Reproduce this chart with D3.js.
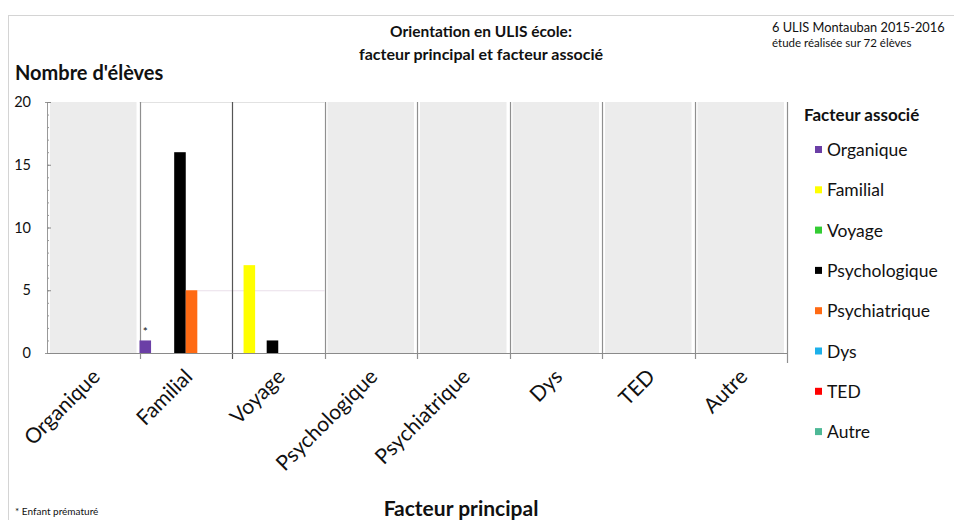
<!DOCTYPE html>
<html>
<head>
<meta charset="utf-8">
<script src="https://cdn.jsdelivr.net/npm/d3@7"></script>
<style>
  body { margin: 0; background: #fff; }
  text { font-family: Lato, "Open Sans", sans-serif; fill: #111; }
</style>
</head>
<body>
<svg width="954" height="520"></svg>
<script>
// facteur principal (x categories)
var categories = ["Organique", "Familial", "Voyage", "Psychologique", "Psychiatrique", "Dys", "TED", "Autre"];
// facteur associé (series)
var seriesNames = ["Organique", "Familial", "Voyage", "Psychologique", "Psychiatrique", "Dys", "TED", "Autre"];
var seriesColors = ["#6b3fa6", "#ffff00", "#33cc33", "#000000", "#ff6a13", "#1cb0ea", "#ff0000", "#4db896"];

// one value per category, for each series
var organique     = [0, 1, 0, 0, 0, 0, 0, 0];
var familial      = [0, 0, 7, 0, 0, 0, 0, 0];
var voyage        = [0, 0, 0, 0, 0, 0, 0, 0];
var psychologique = [0, 16, 1, 0, 0, 0, 0, 0];
var psychiatrique = [0, 5, 0, 0, 0, 0, 0, 0];
var dys           = [0, 0, 0, 0, 0, 0, 0, 0];
var ted           = [0, 0, 0, 0, 0, 0, 0, 0];
var autre         = [0, 0, 0, 0, 0, 0, 0, 0];
var seriesValues = [organique, familial, voyage, psychologique, psychiatrique, dys, ted, autre];

var yTicks = [0, 5, 10, 15, 20];
var whiteBands = ["Familial", "Voyage"];

var svg = d3.select("svg");

// outer frame (top + left only)
svg.append("line").attr("x1", 8).attr("x2", 954).attr("y1", 15.5).attr("y2", 15.5).attr("stroke", "#d4d4d4");
svg.append("line").attr("x1", 8.5).attr("x2", 8.5).attr("y1", 15).attr("y2", 520).attr("stroke", "#d4d4d4");

var x = d3.scaleBand().domain(categories).range([47, 787]).padding(0);
var xs = d3.scaleBand().domain(seriesNames).range([0, x.bandwidth()]).padding(0);
var y = d3.scaleLinear().domain([0, 20]).range([353, 102]);

// band backgrounds
svg.append("g").selectAll("rect").data(categories).enter().append("rect")
  .attr("x", function(d) { return x(d) + 3; })
  .attr("y", y(20))
  .attr("width", x.bandwidth() - 6)
  .attr("height", y(0) - y(20))
  .attr("fill", function(d) { return whiteBands.indexOf(d) >= 0 ? "#fff" : "#ececec"; });

// faint top line over the white bands
svg.append("line").attr("x1", x("Familial")).attr("x2", x("Voyage") + x.bandwidth())
  .attr("y1", y(20) + 0.5).attr("y2", y(20) + 0.5).attr("stroke", "#e2e2e2");
// faint line at 5 in the white bands
svg.append("line").attr("x1", x("Familial") + xs("Dys")).attr("x2", x("Voyage") + x.bandwidth())
  .attr("y1", y(5) + 0.5).attr("y2", y(5) + 0.5).attr("stroke", "#eadfea");

// band separators
var bounds = categories.slice(1).map(function(d) { return x(d); }).concat([x.range()[1]]);
svg.append("g").selectAll("line").data(bounds).enter().append("line")
  .attr("x1", function(d) { return Math.round(d) + 0.5; })
  .attr("x2", function(d) { return Math.round(d) + 0.5; })
  .attr("y1", y(20)).attr("y2", function(d, i) { return i === bounds.length - 1 ? y(0) + 10 : y(0) + 6; })
  .attr("stroke", function(d, i) { return i === 1 ? "#555" : "#8f8f8f"; })
  .attr("stroke-width", 1.2);

// bars
var barData = [];
seriesValues.forEach(function(vals, s) {
  vals.forEach(function(v, c) {
    if (v > 0) barData.push({cat: categories[c], series: seriesNames[s], color: seriesColors[s], value: v});
  });
});
svg.append("g").selectAll("rect").data(barData).enter().append("rect")
  .attr("x", function(d) { return x(d.cat) + xs(d.series); })
  .attr("y", function(d) { return y(d.value); })
  .attr("width", xs.bandwidth())
  .attr("height", function(d) { return y(0) - y(d.value); })
  .attr("fill", function(d) { return d.color; });

// asterisk above the premature-child bar
svg.append("text")
  .attr("x", x("Familial") + xs("Organique") + xs.bandwidth() / 2)
  .attr("y", y(organique[1]) - 4)
  .attr("text-anchor", "middle").attr("font-size", 12).text("*");

// x axis line
svg.append("line").attr("x1", 47).attr("x2", 787).attr("y1", y(0) + 0.5).attr("y2", y(0) + 0.5)
  .attr("stroke", "#8a8a8a").attr("stroke-width", 1.2);

// y axis
var minor = svg.append("g").attr("transform", "translate(47,0)")
  .call(d3.axisLeft(y).tickValues(d3.range(0, 21)).tickSize(2).tickFormat(""));
minor.select(".domain").attr("stroke", "#999");
minor.selectAll(".tick line").attr("stroke", "#999").attr("x2", 2);

var yAxis = svg.append("g").attr("transform", "translate(47,0)")
  .call(d3.axisLeft(y).tickValues(yTicks).tickSize(5).tickPadding(11));
yAxis.select(".domain").remove();
yAxis.selectAll(".tick line").attr("stroke", "#888").attr("x2", 4);
yAxis.selectAll(".tick text").attr("font-size", 14.5).attr("fill", "#222")
  .style("font-family", "Lato, sans-serif");

// x labels
svg.append("g").selectAll("text").data(categories).enter().append("text")
  .attr("transform", function(d) {
    return "translate(" + (x(d) + x.bandwidth() / 2 + 8) + ",378) rotate(-45)";
  })
  .attr("text-anchor", "end").attr("font-size", 21).text(function(d) { return d; });

// titles
svg.append("text").attr("x", 481).attr("y", 37).attr("text-anchor", "middle")
  .attr("font-size", 15.5).attr("font-weight", "bold").text("Orientation en ULIS école:");
svg.append("text").attr("x", 481).attr("y", 60).attr("text-anchor", "middle")
  .attr("font-size", 16).attr("font-weight", "bold").text("facteur principal et facteur associé");

svg.append("text").attr("x", 772).attr("y", 32).attr("font-size", 12.8).attr("fill", "#333")
  .text("6 ULIS Montauban 2015-2016");
svg.append("text").attr("x", 772).attr("y", 47).attr("font-size", 11.5).attr("fill", "#555")
  .text("étude réalisée sur 72 élèves");

svg.append("text").attr("x", 15).attr("y", 80).attr("font-size", 20).attr("font-weight", "bold")
  .text("Nombre d'élèves");

svg.append("text").attr("x", 461).attr("y", 516).attr("text-anchor", "middle")
  .attr("font-size", 21).attr("font-weight", "bold").text("Facteur principal");

svg.append("text").attr("x", 15).attr("y", 515).attr("font-size", 10).text("* Enfant prématuré");

// legend
var legend = svg.append("g");
legend.append("text").attr("x", 804).attr("y", 121).attr("font-size", 17).attr("font-weight", "bold")
  .text("Facteur associé");
var item = legend.selectAll("g.item").data(seriesNames).enter().append("g").attr("class", "item")
  .attr("transform", function(d, i) { return "translate(815," + (150 + i * 40.3) + ")"; });
item.append("rect").attr("x", 0).attr("y", -4).attr("width", 7).attr("height", 7)
  .attr("fill", function(d, i) { return seriesColors[i]; });
item.append("text").attr("x", 12).attr("y", 6).attr("font-size", 17.5).text(function(d) { return d; });
</script>
</body>
</html>
